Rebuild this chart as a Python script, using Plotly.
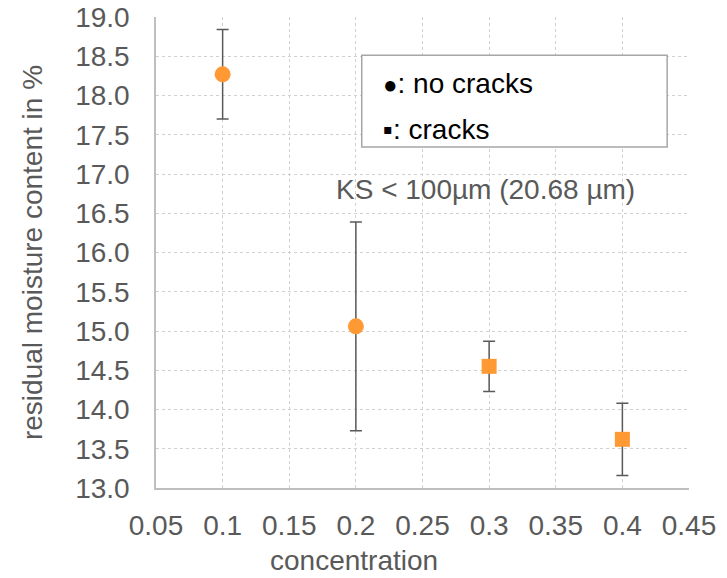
import plotly.graph_objects as go

# Data
conc_nocracks = [0.1, 0.2]
moist_nocracks = [18.27, 15.06]
err_nocracks = [0.57, 1.33]

conc_cracks = [0.3, 0.4]
moist_cracks = [14.55, 13.62]
err_cracks = [0.32, 0.46]

x_ticks = [0.05, 0.1, 0.15, 0.2, 0.25, 0.3, 0.35, 0.4, 0.45]
x_ticklabels = ["0.05", "0.1", "0.15", "0.2", "0.25", "0.3", "0.35", "0.4", "0.45"]

legend_symbols = ["●", "▪"]
legend_labels = [": no cracks", ": cracks"]
note_text = "KS < 100µm (20.68 µm)"
x_title = "concentration"
y_title = "residual moisture content in %"

FONT = "Liberation Sans, Arial, sans-serif"
GRAY = "#595959"
ORANGE = "#FF9933"
FS = 28

fig = go.Figure()
fig.add_trace(go.Scatter(
    x=conc_nocracks, y=moist_nocracks, mode="markers",
    marker=dict(symbol="circle", size=16, color=ORANGE),
    error_y=dict(type="data", array=err_nocracks, color=GRAY, thickness=1.5, width=6),
    showlegend=False))
fig.add_trace(go.Scatter(
    x=conc_cracks, y=moist_cracks, mode="markers",
    marker=dict(symbol="square", size=15, color=ORANGE),
    error_y=dict(type="data", array=err_cracks, color=GRAY, thickness=1.5, width=6),
    showlegend=False))

axis_common = dict(
    showgrid=True, gridcolor="#d0d0d0", griddash="dot", gridwidth=1,
    showline=True, linecolor="#bfbfbf", linewidth=1.5,
    ticks="outside", tickcolor="rgba(0,0,0,0)", zeroline=False,
    automargin=False,
    tickfont=dict(family=FONT, size=FS, color=GRAY),
    title_font=dict(family=FONT, size=FS, color=GRAY),
)

fig.update_xaxes(range=[0.05, 0.45], tickvals=x_ticks, ticktext=x_ticklabels,
                 ticklen=12, **axis_common)
fig.update_yaxes(range=[13.0, 19.0], dtick=0.5, tickformat=".1f", ticklen=19,
                 title_text=y_title, title_standoff=24,
                 **axis_common)

# x-axis title (offset left as in the original)
fig.add_annotation(xref="paper", yref="paper", x=0.371, y=-0.189, xanchor="center",
                   yanchor="bottom", text=x_title, showarrow=False, borderpad=0,
                   font=dict(family=FONT, size=FS, color=GRAY))

# Legend box
fig.add_shape(type="rect", xref="paper", yref="paper",
              x0=0.386, x1=0.959, y0=0.724, y1=0.919,
              line=dict(color="#a6a6a6", width=1.5), fillcolor="white", layer="above")
fig.add_annotation(xref="paper", yref="paper", x=0.423, y=0.858, xanchor="left",
                   yanchor="middle",
                   text=f"<span style='font-size:24px'>{legend_symbols[0]}</span>{legend_labels[0]}",
                   showarrow=False, font=dict(family=FONT, size=FS, color="black"))
fig.add_annotation(xref="paper", yref="paper", x=0.423, y=0.761, xanchor="left",
                   yanchor="middle",
                   text=f"<span style='font-size:28px'>{legend_symbols[1]}</span>{legend_labels[1]}",
                   showarrow=False, font=dict(family=FONT, size=FS, color="black"))
fig.add_annotation(xref="paper", yref="paper", x=0.618, y=0.633, xanchor="center",
                   yanchor="middle", text=note_text, showarrow=False,
                   font=dict(family=FONT, size=FS, color=GRAY))

fig.update_layout(
    width=727, height=578,
    margin=dict(l=156, r=38, t=17, b=90),
    plot_bgcolor="white", paper_bgcolor="white",
    font=dict(family=FONT, color=GRAY),
)

fig.write_html("out.html")
